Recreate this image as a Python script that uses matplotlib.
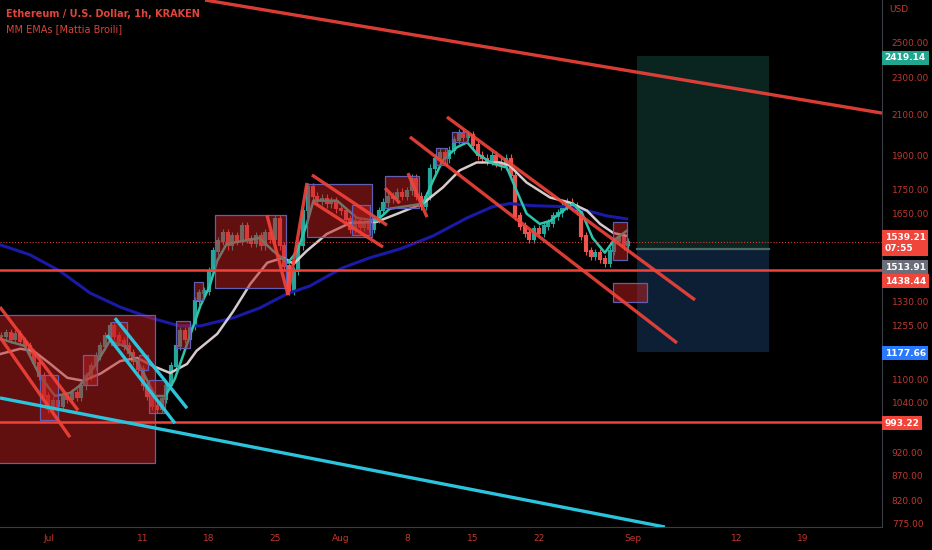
import numpy as np
import matplotlib.pyplot as plt
from matplotlib.patches import Rectangle

# time axis in days counted from 1 Jul; closes are one every half day
start_day = -5.0
closes = [
    1224, 1233, 1215, 1230, 1209, 1194, 1174, 1146, 1110, 1057,
    1024, 1044, 1032, 1057, 1050, 1065, 1055, 1084, 1110, 1137,
    1165, 1194, 1224, 1254, 1224, 1209, 1194, 1174, 1151, 1129,
    1084, 1057, 1032, 1024, 1050, 1084, 1137, 1194, 1239, 1215,
    1254, 1333, 1359, 1366, 1434, 1506, 1543, 1573, 1525, 1562,
    1543, 1600, 1551, 1535, 1562, 1525, 1573, 1551, 1628, 1525,
    1452, 1366, 1434, 1525, 1661, 1761, 1720, 1702, 1711, 1690,
    1702, 1669, 1661, 1628, 1589, 1620, 1597, 1612, 1589, 1628,
    1661, 1694, 1720, 1711, 1736, 1720, 1744, 1797, 1720, 1681,
    1720, 1841, 1886, 1914, 1886, 1924, 1972, 2006, 1987, 1997,
    1948, 1900, 1886, 1877, 1900, 1868, 1854, 1886, 1810, 1640,
    1600, 1573, 1551, 1589, 1573, 1600, 1612, 1640, 1653, 1681,
    1694, 1681, 1661, 1562, 1506, 1488, 1497, 1477, 1463, 1506,
    1543, 1558, 1525, 1539.21,
]

# EMA lines (day, price)
ema_fast_days = [-5.1, -2.5, -0.9, 0.7, 2.3, 3.3, 4.9, 6.5, 8.1, 9.7, 11.3, 12.4, 13.4, 15.0,
                 16.1, 17.1, 17.9, 18.9, 22.4, 23.8, 25.4, 26.4, 27.4, 28.1, 30.6, 32.7, 34.8,
                 36.2, 38.3, 39.7, 40.8, 41.8, 43.3, 44.4, 45.4, 47.1, 48.6, 49.5, 50.7, 52.1,
                 53.2, 54.6, 55.6, 56.6, 57.7, 59.0, 59.9, 61.3]
ema_fast = [1215, 1194, 1110, 1057, 1065, 1084, 1137, 1209, 1194, 1137, 1057, 1057, 1102, 1224,
            1316, 1382, 1470, 1532, 1554, 1506, 1463, 1506, 1608, 1702, 1702, 1632, 1620,
            1669, 1681, 1690, 1788, 1877, 1938, 1962, 1910, 1863, 1845, 1757, 1649, 1608,
            1620, 1661, 1690, 1649, 1554, 1499, 1543, 1581]

ema_mid_days = [-5.1, -3.0, -1.6, 0.2, 2.0, 3.7, 5.5, 7.6, 9.4, 11.1, 12.9, 14.7, 15.7, 17.9,
                19.6, 21.4, 23.2, 24.9, 26.0, 27.4, 29.5, 32.0, 34.8, 37.3, 39.7, 41.8, 43.6,
                45.4, 47.9, 48.9, 50.7, 53.2, 55.3, 57.1, 58.5, 59.9, 61.3]
ema_mid = [1171, 1186, 1180, 1143, 1105, 1097, 1116, 1151, 1160, 1137, 1118, 1143, 1180, 1230,
           1300, 1389, 1463, 1481, 1459, 1506, 1569, 1612, 1616, 1653, 1690, 1757, 1832,
           1868, 1868, 1854, 1779, 1715, 1694, 1661, 1608, 1573, 1562]

ema_slow_days = [-5.1, -2.0, 1.2, 4.4, 7.6, 10.8, 13.9, 16.1, 19.6, 22.4, 25.3, 27.7, 31.2,
                 34.1, 37.3, 40.8, 44.4, 47.1, 48.9, 51.4, 55.0, 57.1, 59.2, 61.3]
ema_slow = [1528, 1492, 1434, 1359, 1313, 1279, 1254, 1254, 1279, 1310, 1356, 1382, 1445,
            1481, 1513, 1562, 1632, 1677, 1690, 1681, 1677, 1661, 1640, 1628]

# drawings: (day0, price0, day1, price1)
red_lines = [
    (16.6, 2776, 88.4, 2107),
    (-5.14, 1313, 3.13, 1021),
    (-5.14, 1220, 2.28, 956),
    (23.17, 1643, 25.4, 1352),
    (25.4, 1352, 27.41, 1777),
    (27.94, 1812, 35.9, 1603),
    (28.05, 1696, 35.47, 1520),
    (35.68, 1755, 37.27, 1692),
    (38.12, 1820, 40.14, 1635),
    (38.33, 1988, 66.65, 1203),
    (42.26, 2087, 68.56, 1336),
]
cyan_lines = [
    (-5.14, 1052, 65.37, 768),
    (7.05, 1278, 14.69, 1026),
    (6.2, 1226, 13.41, 989),
]
h_levels = [1438.44, 993.22]

# boxes: (day0, day1, price_low, price_high)
boxes = [
    (-5.7, 11.29, 897, 1287),
    (-0.9, 1.01, 997, 1112),
    (3.66, 5.14, 1085, 1168),
    (6.63, 8.33, 1197, 1266),
    (9.6, 10.55, 1126, 1168),
    (10.66, 12.36, 1014, 1099),
    (13.52, 15.0, 1188, 1269),
    (15.43, 16.38, 1336, 1395),
    (17.66, 25.19, 1375, 1643),
    (27.41, 34.3, 1557, 1772),
    (32.19, 34.09, 1565, 1684),
    (35.68, 39.29, 1671, 1807),
    (41.09, 42.26, 1856, 1935),
    (42.79, 44.38, 1963, 2012),
    (59.86, 61.35, 1472, 1615),
    (59.86, 63.47, 1329, 1392),
]

# long position tool
pos_start, pos_end = 62.4, 76.4
target, entry, stop = 2419.14, 1513.91, 1177.66
last_price = 1539.21

tick_days = [0, 10, 17, 24, 31, 38, 45, 52, 62, 73, 80]
tick_names = ['Jul', '11', '18', '25', 'Aug', '8', '15', '22', 'Sep', '12', '19']
price_ticks = [2500, 2300, 2100, 1900, 1750, 1650, 1330, 1255, 1100, 1040, 920, 870, 820, 775]

RED = '#f2433a'
TXT = '#c0392f'

fig = plt.figure(figsize=(9.32, 5.5), dpi=100, facecolor='black')
ax = fig.add_axes([0, 23 / 550, 882 / 932, 527 / 550], facecolor='black')
ax.set_yscale('log')
ax.set_xlim(-5.14, 88.39)
ax.set_ylim(768, 2776)

# position zones
ax.add_patch(Rectangle((pos_start, entry), pos_end - pos_start, target - entry,
                       fc='#0a2520', ec='none', zorder=0))
ax.add_patch(Rectangle((pos_start, stop), pos_end - pos_start, entry - stop,
                       fc='#0c1f35', ec='none', zorder=0))
ax.plot([pos_start, pos_end], [entry, entry], color='#4d6a68', lw=1.6, zorder=1)

# candles
days = start_day + 0.5 * np.arange(len(closes))
opens = [closes[0]] + closes[:-1]
for d, o, c in zip(days, opens, closes):
    col = '#26a69a' if c >= o else '#ef5350'
    lo, hi = min(o, c), max(o, c)
    ax.vlines(d, lo * 0.99, hi * 1.01, color=col, lw=0.8, zorder=2)
    ax.vlines(d, lo * 0.998, hi * 1.002, color=col, lw=3.0, zorder=2)

ax.plot(ema_slow_days, ema_slow, color='#1a1aa6', lw=2.2, zorder=3)
ax.plot(ema_mid_days, ema_mid, color='#d6caca', lw=1.8, zorder=3)
ax.plot(ema_fast_days, ema_fast, color='#2ec4ac', lw=1.8, zorder=3)

for d0, d1, p0, p1 in boxes:
    ax.add_patch(Rectangle((d0, p0), d1 - d0, p1 - p0, fc=(0.76, 0.12, 0.12, 0.5),
                           ec='#5f5fb4', lw=0.9, zorder=4))

for lvl in h_levels:
    ax.axhline(lvl, color=RED, lw=1.8, zorder=5)
ax.axhline(last_price, color=RED, lw=0.7, ls=(0, (1, 2)), zorder=5)

for d0, p0, d1, p1 in red_lines:
    ax.plot([d0, d1], [p0, p1], color=RED, lw=2.4, alpha=0.9, zorder=6, solid_capstyle='butt')
for d0, p0, d1, p1 in cyan_lines:
    ax.plot([d0, d1], [p0, p1], color='#2bc4dc', lw=2.4, zorder=6, solid_capstyle='butt')

# axes styling
for s in ['top', 'left']:
    ax.spines[s].set_visible(False)
for s in ['right', 'bottom']:
    ax.spines[s].set_color('#3a3d46')
ax.yaxis.tick_right()
ax.set_yticks(price_ticks)
ax.set_yticklabels(['%.2f' % p for p in price_ticks])
ax.yaxis.set_minor_locator(plt.NullLocator())
ax.tick_params(axis='y', length=0, pad=7, labelsize=6.5, labelcolor=TXT)
ax.set_xticks(tick_days)
ax.set_xticklabels(tick_names)
ax.tick_params(axis='x', length=0, pad=5, labelsize=6.5, labelcolor=TXT)


def badge(ypix, text, fc):
    ax.text(1.003, 1 - ypix / 527, text, transform=ax.transAxes, ha='left', va='center',
            fontsize=6.5, color='white', fontweight='bold', linespacing=1.25,
            bbox=dict(boxstyle='square,pad=0.3', fc=fc, ec='none'), zorder=10, clip_on=False)


badge(58, '2419.14', '#22a58f')
badge(243, '1539.21\n07:55', '#f0453b')
badge(267, '1513.91', '#6b6e78')
badge(281, '1438.44', '#f0453b')
badge(353, '1177.66', '#2979ff')
badge(423, '993.22', '#f0453b')
ax.text(1.008, 1 - 10 / 527, 'USD', transform=ax.transAxes, ha='left', va='center',
        fontsize=6.5, color=TXT, clip_on=False)

fig.text(6 / 932, 1 - 14 / 550, 'Ethereum / U.S. Dollar, 1h, KRAKEN', fontsize=7,
         fontweight='bold', color='#e0443a', va='center')
fig.text(6 / 932, 1 - 29 / 550, 'MM EMAs [Mattia Broili]', fontsize=7, color='#d8443a',
         va='center')

plt.savefig('out.png', dpi=100, facecolor='black')
